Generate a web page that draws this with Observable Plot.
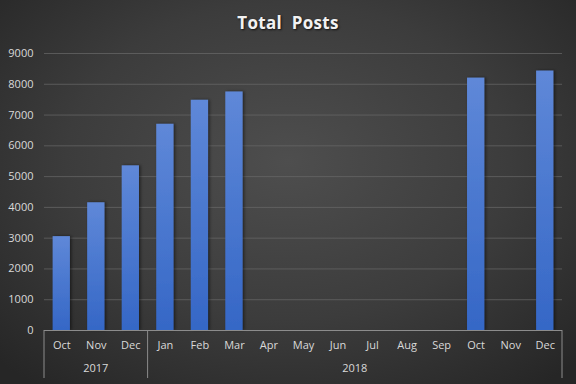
<!DOCTYPE html>
<html><head><meta charset="utf-8">
<script src="https://cdn.jsdelivr.net/npm/d3@7"></script>
<script src="https://cdn.jsdelivr.net/npm/@observablehq/plot@0.6"></script>
<style>
body{margin:0;background:#262626;}
#wrap{position:relative;width:576px;height:384px;overflow:hidden;
 background:radial-gradient(ellipse 70% 75% at 50% 42%, #4e4e4e 0%, #3c3c3c 55%, #262626 100%);
 font-family:"Open Sans",sans-serif;}
#title{position:absolute;top:11px;left:0;width:576px;text-align:center;color:#f2f2f2;
 font-weight:bold;font-size:17px;word-spacing:5px;letter-spacing:0.3px;text-shadow:1px 1px 2px #111;}
#chart{position:absolute;top:0;left:0;}
</style></head>
<body>
<div id="wrap"><div id="title">Total Posts</div><div id="chart"></div></div>
<script>
const months = ["Oct","Nov","Dec","Jan","Feb","Mar","Apr","May","Jun","Jul","Aug","Sep","Oct","Nov","Dec"];
const years  = ["2017","2017","2017","2018","2018","2018","2018","2018","2018","2018","2018","2018","2018","2018","2018"];
const posts  = [3050,4150,5350,6700,7480,7750,null,null,null,null,null,null,8200,null,8430];
const yTicks = [0,1000,2000,3000,4000,5000,6000,7000,8000,9000];
const yearLabels = ["2017","2018"];

const keys = months.map((m,i) => years[i] + "-" + m);
const data = keys.map((k,i) => ({key:k, month:months[i], year:years[i], posts:posts[i]}));

const textColor = "#d9d9d9";

const defs = () => {
  const d = d3.create("svg:defs");
  const g = d.append("linearGradient").attr("id","barGrad").attr("x1",0).attr("x2",0).attr("y1",0).attr("y2",1);
  g.append("stop").attr("offset","0%").attr("stop-color","#5f88d8");
  g.append("stop").attr("offset","100%").attr("stop-color","#3567c6");
  const f = d.append("filter").attr("id","shadow").attr("x","-30%").attr("y","-10%").attr("width","160%").attr("height","120%");
  f.append("feDropShadow").attr("dx",1.5).attr("dy",0).attr("stdDeviation",1.5).attr("flood-color","#000").attr("flood-opacity",0.5);
  return d.node();
};

const plot = Plot.plot({
  width: 576,
  height: 384,
  marginLeft: 44,
  marginRight: 14,
  marginTop: 53,
  marginBottom: 54,
  style: {background: "transparent", fontFamily: "'Open Sans', sans-serif", fontSize: "11px", color: textColor},
  x: {domain: keys, paddingInner: 0.5, paddingOuter: 0.25, round: false, label: null},
  y: {domain: [0, 9000], ticks: yTicks, label: null},
  marks: [
    defs,
    Plot.gridY(yTicks.filter(t => t > 0), {stroke: "#6a6a6a", strokeOpacity: 0.7, strokeWidth: 1}),
    Plot.barY(data.filter(d => d.posts != null), {x: "key", y: "posts", fill: "url(#barGrad)"}),
    Plot.axisY(yTicks, {tickSize: 0, tickPadding: 11, fill: textColor, fontSize: 11, tickFormat: d => String(d)}),
    Plot.axisX({tickSize: 0, tickPadding: 11, fill: textColor, fontSize: 11, tickFormat: k => k.split("-")[1]}),
    Plot.ruleY([0], {stroke: "#8c8c8c", strokeWidth: 1})
  ]
});

// bar shadows
d3.select(plot).selectAll("rect").filter(function(){return this.getAttribute("fill")==="url(#barGrad)" || (this.parentNode && this.parentNode.getAttribute("fill")==="url(#barGrad)");}).attr("filter","url(#shadow)");

// grouping separators and year labels from the plot's x scale
const xs = plot.scale("x");
const bw = xs.bandwidth;
const step = bw / 0.5;
const startOf = i => xs.apply(keys[i]) - (step - bw) / 2;
const yz = plot.scale("y").apply(0);
const svg = d3.select(plot);
const groups = yearLabels.map(y => {
  const idx = keys.map((k,i) => i).filter(i => years[i] === y);
  return {year: y, first: idx[0], last: idx[idx.length - 1]};
});
const bounds = [startOf(0)];
groups.forEach(g => bounds.push(startOf(g.last) + step));
const sep = svg.append("g");
bounds.forEach(bx => sep.append("line").attr("x1", bx).attr("x2", bx).attr("y1", yz).attr("y2", yz + 48).attr("stroke", "#8c8c8c"));
groups.forEach(g => {
  const cx = (startOf(g.first) + startOf(g.last) + step) / 2;
  sep.append("text").attr("x", cx).attr("y", yz + 42).attr("text-anchor", "middle")
    .attr("fill", textColor).attr("font-size", 11).text(g.year);
});

document.getElementById("chart").appendChild(plot);
</script>
</body></html>
